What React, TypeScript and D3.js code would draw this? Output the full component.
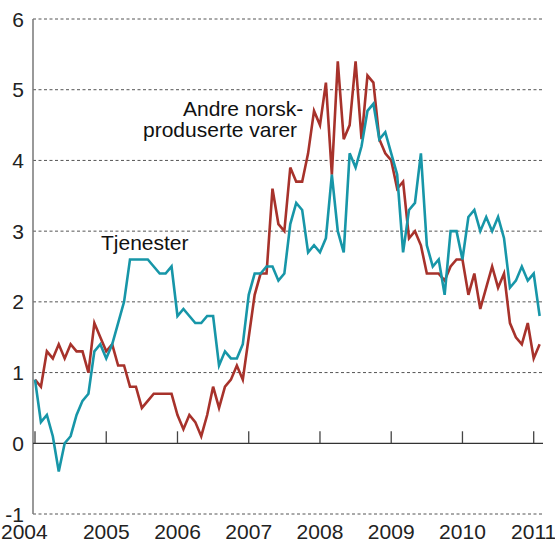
import React, { useRef, useEffect } from "react";
import { select, scaleLinear, line, range } from "d3";

// monthly values, Jan 2004 - Feb 2011
const tjenester = [
  0.9, 0.3, 0.4, 0.1, -0.4, 0.0, 0.1, 0.4, 0.6, 0.7, 1.3, 1.4,
  1.2, 1.4, 1.7, 2.0, 2.6, 2.6, 2.6, 2.6, 2.5, 2.4, 2.4, 2.5,
  1.8, 1.9, 1.8, 1.7, 1.7, 1.8, 1.8, 1.1, 1.3, 1.2, 1.2, 1.4,
  2.1, 2.4, 2.4, 2.5, 2.5, 2.3, 2.4, 3.1, 3.4, 3.3, 2.7, 2.8,
  2.7, 2.9, 3.8, 3.0, 2.7, 4.1, 3.9, 4.2, 4.7, 4.8, 4.3, 4.4,
  4.1, 3.8, 2.7, 3.3, 3.4, 4.1, 2.8, 2.5, 2.6, 2.1, 3.0, 3.0,
  2.6, 3.2, 3.3, 3.0, 3.2, 3.0, 3.2, 2.9, 2.2, 2.3, 2.5, 2.3,
  2.4, 1.8,
];

const andreVarer = [
  0.9, 0.8, 1.3, 1.2, 1.4, 1.2, 1.4, 1.3, 1.3, 1.0, 1.7, 1.5,
  1.3, 1.4, 1.1, 1.1, 0.8, 0.8, 0.5, 0.6, 0.7, 0.7, 0.7, 0.7,
  0.4, 0.2, 0.4, 0.3, 0.1, 0.4, 0.8, 0.5, 0.8, 0.9, 1.1, 0.9,
  1.5, 2.1, 2.4, 2.4, 3.6, 3.1, 3.0, 3.9, 3.7, 3.7, 4.1, 4.7,
  4.5, 5.1, 3.8, 5.4, 4.3, 4.5, 5.4, 4.3, 5.2, 5.1, 4.3, 4.1,
  4.0, 3.6, 3.7, 2.9, 3.0, 2.8, 2.4, 2.4, 2.4, 2.3, 2.5, 2.6,
  2.6, 2.1, 2.4, 1.9, 2.2, 2.5, 2.2, 2.4, 1.7, 1.5, 1.4, 1.7,
  1.2, 1.4,
];

const years = [2004, 2005, 2006, 2007, 2008, 2009, 2010, 2011];
const yTicks = [-1, 0, 1, 2, 3, 4, 5, 6];

const App = () => {
  const svgRef = useRef(null);

  useEffect(() => {
    const svg = select(svgRef.current);
    svg.selectAll("*").remove();

    const x = scaleLinear().domain([2004, 2011]).range([35, 533.7]);
    const y = scaleLinear().domain([-1, 6]).range([514, 19]);
    const font = "'Liberation Sans', Arial, sans-serif";

    // dashed gridlines
    svg.append("g")
      .selectAll("line")
      .data(yTicks.filter(d => d !== 0))
      .join("line")
      .attr("x1", 33)
      .attr("x2", 543)
      .attr("y1", d => y(d))
      .attr("y2", d => y(d))
      .attr("stroke", "#555")
      .attr("stroke-width", 1)
      .attr("stroke-dasharray", "3,2.5");

    // y tick labels
    svg.append("g")
      .selectAll("text")
      .data(yTicks)
      .join("text")
      .attr("x", 24)
      .attr("y", d => y(d))
      .attr("dy", "0.36em")
      .attr("text-anchor", "end")
      .attr("font-family", font)
      .attr("font-size", 21)
      .attr("fill", "#222")
      .text(d => d);

    // y axis line
    svg.append("line")
      .attr("x1", 33).attr("x2", 33)
      .attr("y1", y(6)).attr("y2", y(-1))
      .attr("stroke", "#777")
      .attr("stroke-width", 1.5);

    // zero line + year ticks
    svg.append("line")
      .attr("x1", 33).attr("x2", 543)
      .attr("y1", y(0)).attr("y2", y(0))
      .attr("stroke", "#333")
      .attr("stroke-width", 1.3);

    svg.append("g")
      .selectAll("line")
      .data(years)
      .join("line")
      .attr("x1", d => x(d))
      .attr("x2", d => x(d))
      .attr("y1", y(0))
      .attr("y2", y(0) - 12)
      .attr("stroke", "#444")
      .attr("stroke-width", 1.3);

    svg.append("g")
      .selectAll("text")
      .data(years)
      .join("text")
      .attr("x", (d, i) => (i === 0 ? 1 : x(d)))
      .attr("y", 539)
      .attr("text-anchor", (d, i) => (i === 0 ? "start" : "middle"))
      .attr("font-family", font)
      .attr("font-size", 21)
      .attr("fill", "#222")
      .text(d => d);

    const months = range(tjenester.length);
    const path = line()
      .x(i => x(2004 + i / 12))
      .y(i => y(0));

    const series = [
      { values: andreVarer, color: "#a7322b" },
      { values: tjenester, color: "#1796a8" },
    ];

    series.forEach(s => {
      path.y(i => y(s.values[i]));
      svg.append("path")
        .datum(months)
        .attr("d", path)
        .attr("fill", "none")
        .attr("stroke", s.color)
        .attr("stroke-width", 2.6)
        .attr("stroke-linejoin", "miter");
    });

    // labels
    const labels = [
      { text: "Andre norsk-", x: 183, y: 116 },
      { text: "produserte varer", x: 143, y: 137 },
      { text: "Tjenester", x: 101, y: 250 },
    ];
    svg.append("g")
      .selectAll("text")
      .data(labels)
      .join("text")
      .attr("x", d => d.x)
      .attr("y", d => d.y)
      .attr("font-family", font)
      .attr("font-size", 21)
      .attr("fill", "#111")
      .text(d => d.text);
  }, []);

  return (
    <svg
      ref={svgRef}
      width={555}
      height={542}
      style={{ position: "absolute", left: 0, top: 0, background: "#fff" }}
    />
  );
};

export default App;
